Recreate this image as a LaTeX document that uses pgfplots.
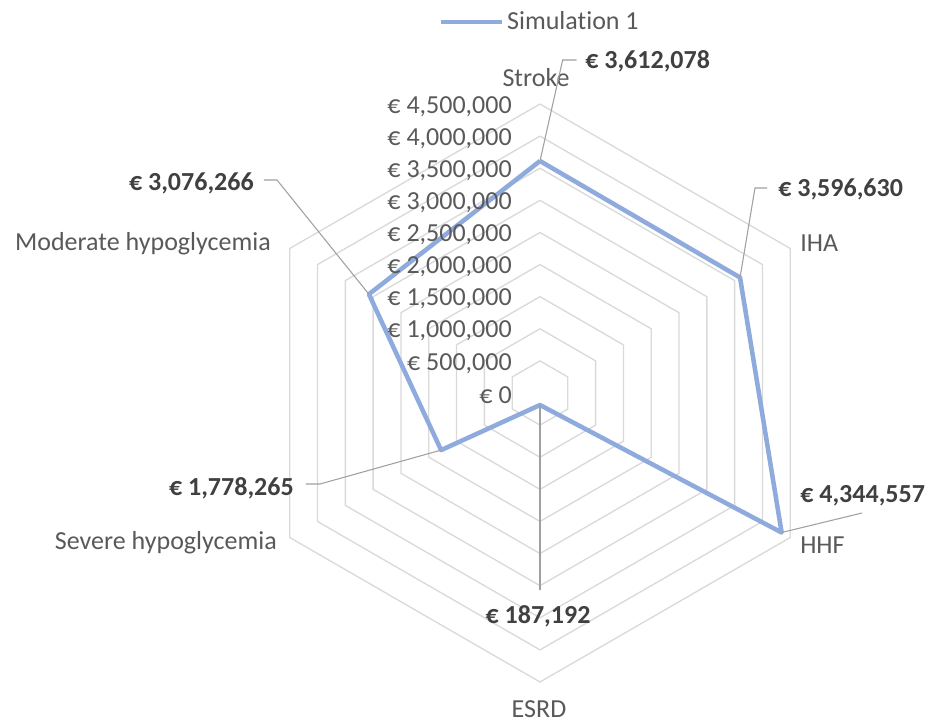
\documentclass[border=0pt]{standalone}
\usepackage{fontspec}
\setmainfont{Carlito}[Ligatures=NoCommon]
\usepackage{pgfplots}
\pgfplotsset{compat=1.18}
\usepgfplotslibrary{polar}
\definecolor{serblue}{RGB}{143,170,220}
\definecolor{gridgray}{RGB}{217,217,217}
\definecolor{txtgray}{RGB}{89,89,89}
\definecolor{lblgray}{RGB}{64,64,64}
\definecolor{leadgray}{RGB}{160,160,160}
\newcommand{\lf}{\fontsize{19.5}{23}\selectfont}
\tikzset{
  ticklab/.style={anchor=east, text=txtgray, font=\lf, inner sep=0pt},
  catlab/.style={text=txtgray, font=\lf, inner sep=0pt},
  datalab/.style={text=lblgray, font=\lf\bfseries, inner sep=0pt},
  leadline/.style={leadgray, line width=0.8pt},
}
\begin{document}
\begin{tikzpicture}
\begin{polaraxis}[
  width=433.5pt, height=433.5pt, scale only axis,
  xmin=0, xmax=360,
  ymin=0, ymax=4500000, hide axis, clip=false,
  legend style={at={(axis cs:90,5780000)}, anchor=center, draw=none, fill=none,
    font=\lf, text=txtgray, inner sep=0pt},
  legend image code/.code={\draw[#1] (0pt,0pt) -- (46pt,0pt);},
]
\coordinate (C) at (axis cs:0,0);
% hexagonal grid
\pgfplotsinvokeforeach{500000,1000000,1500000,2000000,2500000,3000000,3500000,4000000,4500000}{
  \addplot[gridgray, line width=1pt, forget plot] coordinates {(90,#1) (30,#1) (330,#1) (270,#1) (210,#1) (150,#1) (90,#1)};
}
% series
\addplot[serblue, line width=3.4pt, line join=round] coordinates {
  (90,3612078) (30,3596630) (330,4344557) (270,187192) (210,1778265) (150,3076266) (90,3612078)};
\addlegendentry{Simulation 1}
% tick labels
\node[ticklab] at ([xshift=-21pt,yshift=-1.8pt]axis cs:90,0) {€ 0};
\node[ticklab] at ([xshift=-21pt,yshift=-1.8pt]axis cs:90,500000) {€ 500,000};
\node[ticklab] at ([xshift=-21pt,yshift=-1.8pt]axis cs:90,1000000) {€ 1,000,000};
\node[ticklab] at ([xshift=-21pt,yshift=-1.8pt]axis cs:90,1500000) {€ 1,500,000};
\node[ticklab] at ([xshift=-21pt,yshift=-1.8pt]axis cs:90,2000000) {€ 2,000,000};
\node[ticklab] at ([xshift=-21pt,yshift=-1.8pt]axis cs:90,2500000) {€ 2,500,000};
\node[ticklab] at ([xshift=-21pt,yshift=-1.8pt]axis cs:90,3000000) {€ 3,000,000};
\node[ticklab] at ([xshift=-21pt,yshift=-1.8pt]axis cs:90,3500000) {€ 3,500,000};
\node[ticklab] at ([xshift=-21pt,yshift=-1.8pt]axis cs:90,4000000) {€ 4,000,000};
\node[ticklab] at ([xshift=-21pt,yshift=-1.8pt]axis cs:90,4500000) {€ 4,500,000};
% category labels
\node[catlab] at ([shift={(-3pt,236.25pt)}]C) {Stroke};
\node[catlab, anchor=west] at ([shift={(195pt,112.5pt)}]C) {IHA};
\node[catlab, anchor=west] at ([shift={(195pt,-114pt)}]C) {HHF};
\node[catlab] at ([shift={(-0.75pt,-237pt)}]C) {ESRD};
\node[catlab, anchor=east] at ([shift={(-201.75pt,111.75pt)}]C) {Moderate hypoglycemia};
\node[catlab, anchor=east] at ([shift={(-197.25pt,-112.5pt)}]C) {Severe hypoglycemia};
% leader lines
\draw[leadline] (axis cs:90,3612078) -- ([shift={(17pt,249.75pt)}]C) -- ([shift={(27.5pt,249.75pt)}]C);
\draw[leadline] (axis cs:30,3596630) -- ([shift={(161.25pt,153.75pt)}]C) -- ([shift={(170.25pt,153.75pt)}]C);
\draw[leadline] (axis cs:330,4344557) -- ([shift={(241.5pt,-90pt)}]C);
\draw[leadline] (axis cs:270,187192) -- ([shift={(0pt,-147.75pt)}]C);
\draw[leadline] (axis cs:150,3076266) -- ([shift={(-197.25pt,159.75pt)}]C) -- ([shift={(-207pt,159.75pt)}]C);
\draw[leadline] (axis cs:210,1778265) -- ([shift={(-165pt,-68.25pt)}]C) -- ([shift={(-175.5pt,-68.25pt)}]C);
% data labels
\node[datalab, anchor=west] at ([shift={(33.75pt,249pt)}]C) {€ 3,612,078};
\node[datalab, anchor=west] at ([shift={(178.5pt,153pt)}]C) {€ 3,596,630};
\node[datalab, anchor=west] at ([shift={(195pt,-77.25pt)}]C) {€ 4,344,557};
\node[datalab] at ([shift={(-1.5pt,-167.25pt)}]C) {€ 187,192};
\node[datalab, anchor=east] at ([shift={(-214.5pt,157.5pt)}]C) {€ 3,076,266};
\node[datalab, anchor=east] at ([shift={(-184.5pt,-71.25pt)}]C) {€ 1,778,265};
\end{polaraxis}
\pgfresetboundingbox
\path (C) ++(-405pt,294.75pt) rectangle ++(696pt,-541.5pt);
\end{tikzpicture}
\end{document}
